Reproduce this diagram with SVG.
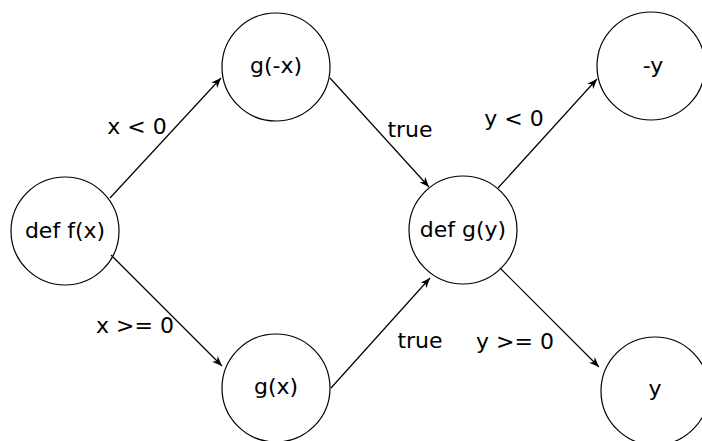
<svg xmlns="http://www.w3.org/2000/svg" width="702" height="441" viewBox="0 0 702 441">
<style>
.node circle{fill:#fff;stroke:#000;stroke-width:1.2}
text{font-family:"DejaVu Sans",sans-serif;font-size:22px;fill:#000}
.node text{text-anchor:middle}
.lbl{text-anchor:middle}
.edges line{stroke:#000;stroke-width:1.2;marker-end:url(#arr)}
</style>
<defs>
<marker id="arr" viewBox="0 0 10 8" refX="10" refY="4" markerWidth="10" markerHeight="8" markerUnits="userSpaceOnUse" orient="auto">
<path d="M0,0 L10,4 L0,8 L3,4 z" fill="#000"/>
</marker>
</defs>
<rect width="702" height="441" fill="#fff"/>
<g id="n_fx" class="node"><circle cx="65" cy="231" r="54"/><text x="65" y="238">def f(x)</text></g>
<g id="n_gnx" class="node"><circle cx="276" cy="67" r="54"/><text x="276" y="73">g(-x)</text></g>
<g id="n_gx" class="node"><circle cx="276" cy="388" r="54"/><text x="276" y="394">g(x)</text></g>
<g id="n_gy" class="node"><circle cx="463" cy="230" r="54"/><text x="463" y="237">def g(y)</text></g>
<g id="n_ny" class="node"><circle cx="651" cy="66" r="54"/><text x="653" y="73">-y</text></g>
<g id="n_y" class="node"><circle cx="655" cy="391" r="54"/><text x="655" y="396">y</text></g>
<g id="edges" class="edges">
<line x1="110" y1="198" x2="221" y2="78"/>
<line x1="111" y1="255" x2="222" y2="366"/>
<line x1="330" y1="78" x2="429" y2="187"/>
<line x1="331" y1="388" x2="430" y2="278"/>
<line x1="498" y1="188" x2="597" y2="79"/>
<line x1="500" y1="268" x2="599" y2="367"/>
</g>
<g id="labels">
<text class="lbl" x="137" y="134">x &lt; 0</text>
<text class="lbl" x="135" y="333">x &gt;= 0</text>
<text class="lbl" x="410" y="137">true</text>
<text class="lbl" x="420" y="348">true</text>
<text class="lbl" x="514" y="126">y &lt; 0</text>
<text class="lbl" x="515" y="349">y &gt;= 0</text>
</g>
</svg>
